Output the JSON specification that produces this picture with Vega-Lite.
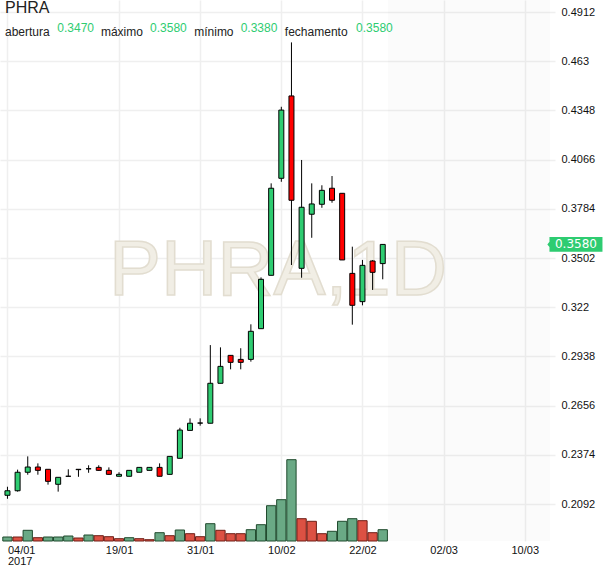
{
  "$schema": "https://vega.github.io/schema/vega-lite/v6.json",
  "autosize": {"type": "none"},
  "width": 555,
  "height": 541,
  "padding": {"left": 0, "top": 0, "right": 55, "bottom": 27},
  "background": "white",
  "config": {
    "view": {"stroke": null},
    "font": "Liberation Sans",
    "axis": {"gridColor": "#efefef", "gridWidth": 1.5, "domain": false, "ticks": false, "labelFont": "Liberation Sans", "labelFontSize": 11, "labelColor": "#111111", "title": null}
  },
  "data": {
    "values": [
      {"i": 0, "d": "04/01", "o": 0.2142, "h": 0.2191, "l": 0.2122, "c": 0.2168, "v": 4000, "vd": "up"},
      {"i": 1, "d": "05/01", "o": 0.2168, "h": 0.2289, "l": 0.2163, "c": 0.2274, "v": 4000, "vd": "down"},
      {"i": 2, "d": "06/01", "o": 0.2274, "h": 0.2365, "l": 0.2260, "c": 0.2304, "v": 10700, "vd": "up"},
      {"i": 3, "d": "09/01", "o": 0.2304, "h": 0.2325, "l": 0.2260, "c": 0.2285, "v": 3300, "vd": "down"},
      {"i": 4, "d": "10/01", "o": 0.2291, "h": 0.2291, "l": 0.2203, "c": 0.2222, "v": 4000, "vd": "up"},
      {"i": 5, "d": "11/01", "o": 0.2205, "h": 0.2245, "l": 0.2163, "c": 0.2245, "v": 4000, "vd": "up"},
      {"i": 6, "d": "12/01", "o": 0.2251, "h": 0.2291, "l": 0.2251, "c": 0.2251, "v": 5000, "vd": "up"},
      {"i": 7, "d": "13/01", "o": 0.2291, "h": 0.2291, "l": 0.2248, "c": 0.2289, "v": 3000, "vd": "down"},
      {"i": 8, "d": "16/01", "o": 0.2294, "h": 0.2314, "l": 0.2271, "c": 0.2294, "v": 6000, "vd": "up"},
      {"i": 9, "d": "17/01", "o": 0.2302, "h": 0.2314, "l": 0.2283, "c": 0.2285, "v": 5300, "vd": "down"},
      {"i": 10, "d": "18/01", "o": 0.2285, "h": 0.2302, "l": 0.2260, "c": 0.2262, "v": 4300, "vd": "down"},
      {"i": 11, "d": "19/01", "o": 0.2251, "h": 0.2274, "l": 0.2251, "c": 0.2262, "v": 2300, "vd": "down"},
      {"i": 12, "d": "20/01", "o": 0.2251, "h": 0.2285, "l": 0.2251, "c": 0.2285, "v": 3300, "vd": "up"},
      {"i": 13, "d": "23/01", "o": 0.2274, "h": 0.2302, "l": 0.2274, "c": 0.2302, "v": 2300, "vd": "down"},
      {"i": 14, "d": "24/01", "o": 0.2285, "h": 0.2302, "l": 0.2285, "c": 0.2302, "v": 1300, "vd": "down"},
      {"i": 15, "d": "25/01", "o": 0.2302, "h": 0.2325, "l": 0.2251, "c": 0.2251, "v": 8300, "vd": "up"},
      {"i": 16, "d": "26/01", "o": 0.2262, "h": 0.2365, "l": 0.2262, "c": 0.2365, "v": 5300, "vd": "down"},
      {"i": 17, "d": "27/01", "o": 0.2354, "h": 0.2529, "l": 0.2354, "c": 0.2516, "v": 11000, "vd": "up"},
      {"i": 18, "d": "30/01", "o": 0.2514, "h": 0.2583, "l": 0.2514, "c": 0.2555, "v": 7300, "vd": "down"},
      {"i": 19, "d": "31/01", "o": 0.2556, "h": 0.2583, "l": 0.2541, "c": 0.2556, "v": 4300, "vd": "down"},
      {"i": 20, "d": "01/02", "o": 0.2555, "h": 0.3003, "l": 0.2555, "c": 0.2784, "v": 17300, "vd": "up"},
      {"i": 21, "d": "02/02", "o": 0.2784, "h": 0.2990, "l": 0.2784, "c": 0.2881, "v": 10700, "vd": "down"},
      {"i": 22, "d": "03/02", "o": 0.2944, "h": 0.2944, "l": 0.2864, "c": 0.2904, "v": 7300, "vd": "down"},
      {"i": 23, "d": "06/02", "o": 0.2921, "h": 0.2985, "l": 0.2864, "c": 0.2904, "v": 7300, "vd": "down"},
      {"i": 24, "d": "07/02", "o": 0.2921, "h": 0.3122, "l": 0.2908, "c": 0.3082, "v": 11300, "vd": "up"},
      {"i": 25, "d": "08/02", "o": 0.3097, "h": 0.3391, "l": 0.3097, "c": 0.3380, "v": 16300, "vd": "up"},
      {"i": 26, "d": "09/02", "o": 0.3403, "h": 0.3930, "l": 0.3403, "c": 0.3902, "v": 35300, "vd": "up"},
      {"i": 27, "d": "10/02", "o": 0.3959, "h": 0.4369, "l": 0.3939, "c": 0.4350, "v": 41300, "vd": "up"},
      {"i": 28, "d": "13/02", "o": 0.4431, "h": 0.4738, "l": 0.3462, "c": 0.3833, "v": 81300, "vd": "up"},
      {"i": 29, "d": "14/02", "o": 0.3443, "h": 0.4064, "l": 0.3389, "c": 0.3793, "v": 22300, "vd": "down"},
      {"i": 30, "d": "15/02", "o": 0.3753, "h": 0.3930, "l": 0.3618, "c": 0.3812, "v": 19700, "vd": "down"},
      {"i": 31, "d": "16/02", "o": 0.3810, "h": 0.3919, "l": 0.3790, "c": 0.3890, "v": 7300, "vd": "down"},
      {"i": 32, "d": "17/02", "o": 0.3902, "h": 0.3972, "l": 0.3819, "c": 0.3833, "v": 9700, "vd": "up"},
      {"i": 33, "d": "20/02", "o": 0.3873, "h": 0.3873, "l": 0.3491, "c": 0.3491, "v": 19700, "vd": "up"},
      {"i": 34, "d": "21/02", "o": 0.3414, "h": 0.3567, "l": 0.3120, "c": 0.3231, "v": 22300, "vd": "up"},
      {"i": 35, "d": "22/02", "o": 0.3252, "h": 0.3491, "l": 0.3231, "c": 0.3460, "v": 20300, "vd": "down"},
      {"i": 36, "d": "23/02", "o": 0.3485, "h": 0.3490, "l": 0.3319, "c": 0.3420, "v": 8300, "vd": "down"},
      {"i": 37, "d": "24/02", "o": 0.3470, "h": 0.3580, "l": 0.3380, "c": 0.3580, "v": 11300, "vd": "up"}
    ]
  },
  "layer": [
    {
      "layer": [
        {
          "data": {"values": [{}]},
          "mark": {"type": "rect", "fill": "#000000", "opacity": 0.016},
          "encoding": {
            "x": {"datum": 37.5, "type": "quantitative", "scale": {"domain": [-0.242, 53.49], "nice": false, "zero": false}},
            "x2": {"datum": 53.49},
            "y": {"datum": 0, "type": "quantitative", "scale": {"domain": [0, 541000], "nice": false, "zero": false}, "axis": null},
            "y2": {"datum": 541000}
          }
        },
        {
          "mark": {"type": "bar", "size": 9.3, "strokeWidth": 1},
          "encoding": {
            "x": {
              "field": "i", "type": "quantitative",
              "scale": {"domain": [-0.242, 53.49], "nice": false, "zero": false},
              "axis": {
                "orient": "bottom", "grid": true, "values": [0, 11, 19, 27, 35, 43, 51],
                "labelExpr": "datum.value == 0 ? ['04/01', '2017'] : datum.value == 11 ? '19/01' : datum.value == 19 ? '31/01' : datum.value == 27 ? '10/02' : datum.value == 35 ? '22/02' : datum.value == 43 ? '02/03' : '10/03'",
                "labelFlush": 10, "labelPadding": 3, "labelLineHeight": 11, "labelOverlap": false, "title": null
              }
            },
            "y": {"field": "v", "type": "quantitative", "stack": null, "scale": {"domain": [0, 541000], "nice": false, "zero": false}, "axis": null},
            "fill": {"condition": {"test": "datum.vd == 'up'", "value": "#6aa985"}, "value": "#dc5143"},
            "stroke": {"condition": {"test": "datum.vd == 'up'", "value": "#1f4a2d"}, "value": "#6e1e16"}
          }
        }
      ]
    },
    {
      "layer": [
        {
          "data": {"values": [{}]},
          "mark": {"type": "text", "text": "PHRA,1D", "font": "Liberation Sans", "fontSize": 78, "align": "center", "baseline": "alphabetic", "fill": "#f1eee5", "stroke": "#e2ddd0", "strokeWidth": 1.5},
          "encoding": {
            "x": {"datum": 26.67, "type": "quantitative"},
            "y": {"datum": 0.3292, "type": "quantitative", "scale": {"domain": [0.188, 0.4981], "nice": false, "zero": false}}
          }
        },
        {
          "mark": {"type": "rule", "color": "#000000", "strokeWidth": 1},
          "encoding": {
            "x": {"field": "i", "type": "quantitative", "scale": {"domain": [-0.242, 53.49], "nice": false, "zero": false}},
            "y": {
              "field": "l", "type": "quantitative",
              "scale": {"domain": [0.188, 0.4981], "nice": false, "zero": false},
              "axis": {"orient": "right", "grid": true, "values": [0.2092, 0.2374, 0.2656, 0.2938, 0.322, 0.3502, 0.3784, 0.4066, 0.4348, 0.463, 0.4912], "labelExpr": "format(datum.value, '.4~f')", "labelPadding": 6, "labelOverlap": false, "title": null}
            },
            "y2": {"field": "h"}
          }
        },
        {
          "mark": {"type": "bar", "size": 5, "stroke": "#000000", "strokeWidth": 1},
          "encoding": {
            "x": {"field": "i", "type": "quantitative"},
            "y": {"field": "o", "type": "quantitative"},
            "y2": {"field": "c"},
            "fill": {"condition": {"test": "datum.c >= datum.o", "value": "#2ecc71"}, "value": "#ff0000"}
          }
        },
        {
          "data": {"values": [{}]},
          "mark": {"type": "text", "text": "PHRA", "fontSize": 16, "align": "left", "baseline": "alphabetic", "color": "#222222"},
          "encoding": {"x": {"datum": -0.242, "type": "quantitative"}, "y": {"datum": 0.4905, "type": "quantitative"}}
        },
        {
          "data": {"values": [{}]},
          "mark": {"type": "text", "text": "abertura", "fontSize": 12, "align": "left", "baseline": "alphabetic", "color": "#222222"},
          "encoding": {"x": {"datum": -0.242, "type": "quantitative"}, "y": {"datum": 0.4775, "type": "quantitative"}}
        },
        {
          "data": {"values": [{}]},
          "mark": {"type": "text", "text": "máximo", "fontSize": 12, "align": "left", "baseline": "alphabetic", "color": "#222222"},
          "encoding": {"x": {"datum": 9.216, "type": "quantitative"}, "y": {"datum": 0.4775, "type": "quantitative"}}
        },
        {
          "data": {"values": [{}]},
          "mark": {"type": "text", "text": "mínimo", "fontSize": 12, "align": "left", "baseline": "alphabetic", "color": "#222222"},
          "encoding": {"x": {"datum": 18.412, "type": "quantitative"}, "y": {"datum": 0.4775, "type": "quantitative"}}
        },
        {
          "data": {"values": [{}]},
          "mark": {"type": "text", "text": "fechamento", "fontSize": 12, "align": "left", "baseline": "alphabetic", "color": "#222222"},
          "encoding": {"x": {"datum": 27.35, "type": "quantitative"}, "y": {"datum": 0.4775, "type": "quantitative"}}
        },
        {
          "transform": [{"filter": "datum.i == 37"}],
          "mark": {"type": "text", "fontSize": 12, "align": "left", "baseline": "alphabetic", "color": "#2ecc71"},
          "encoding": {"x": {"datum": 4.918, "type": "quantitative"}, "y": {"datum": 0.4799, "type": "quantitative"}, "text": {"field": "o", "type": "quantitative", "format": ".4f"}}
        },
        {
          "transform": [{"filter": "datum.i == 37"}],
          "mark": {"type": "text", "fontSize": 12, "align": "left", "baseline": "alphabetic", "color": "#2ecc71"},
          "encoding": {"x": {"datum": 14.056, "type": "quantitative"}, "y": {"datum": 0.4799, "type": "quantitative"}, "text": {"field": "h", "type": "quantitative", "format": ".4f"}}
        },
        {
          "transform": [{"filter": "datum.i == 37"}],
          "mark": {"type": "text", "fontSize": 12, "align": "left", "baseline": "alphabetic", "color": "#2ecc71"},
          "encoding": {"x": {"datum": 22.99, "type": "quantitative"}, "y": {"datum": 0.4799, "type": "quantitative"}, "text": {"field": "l", "type": "quantitative", "format": ".4f"}}
        },
        {
          "transform": [{"filter": "datum.i == 37"}],
          "mark": {"type": "text", "fontSize": 12, "align": "left", "baseline": "alphabetic", "color": "#2ecc71"},
          "encoding": {"x": {"datum": 34.37, "type": "quantitative"}, "y": {"datum": 0.4799, "type": "quantitative"}, "text": {"field": "c", "type": "quantitative", "format": ".4f"}}
        },
        {
          "transform": [{"filter": "datum.i == 37"}],
          "mark": {"type": "point", "shape": "M-1,-0.28 L1,-0.28 L1,0.28 L-1,0.28 L-1,0.1 L-1.08,0 L-1,-0.1 Z", "size": 2809, "filled": true, "fill": "#2ecc71", "opacity": 1, "strokeWidth": 0},
          "encoding": {"x": {"datum": 56.05, "type": "quantitative"}, "y": {"field": "c", "type": "quantitative"}}
        },
        {
          "transform": [{"filter": "datum.i == 37"}],
          "mark": {"type": "text", "font": "DejaVu Sans", "fontSize": 12, "align": "center", "baseline": "middle", "color": "#ffffff"},
          "encoding": {"x": {"datum": 56.05, "type": "quantitative"}, "y": {"field": "c", "type": "quantitative"}, "text": {"field": "c", "type": "quantitative", "format": ".4f"}}
        }
      ]
    }
  ],
  "resolve": {"scale": {"y": "independent"}, "axis": {"y": "independent"}}
}
